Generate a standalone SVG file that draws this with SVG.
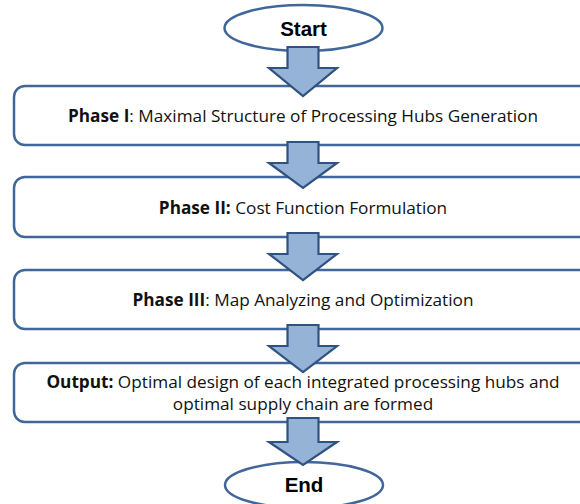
<svg xmlns="http://www.w3.org/2000/svg" width="580" height="504" viewBox="0 0 580 504">
  <defs>
    <style>
      .terminal { fill: #ffffff; stroke: #41679a; stroke-width: 2.5; }
      .box { fill: #ffffff; stroke: #41679a; stroke-width: 2.5; }
      .flow { fill: #95b3d7; stroke: #2f5280; stroke-width: 2.2; stroke-linejoin: miter; }
      .term-label { font-family: "Liberation Sans", Arial, sans-serif; font-weight: bold; font-size: 20.5px; fill: #000; text-anchor: middle; }
      .label { font-family: "Open Sans", "Noto Sans", sans-serif; font-size: 17.2px; fill: #111; text-anchor: middle; }
      .label .key { font-weight: bold; }
    </style>
  </defs>

  <rect width="580" height="504" fill="#ffffff"/>

  <g id="start">
    <ellipse class="terminal" cx="303.5" cy="28" rx="79" ry="23"/>
    <text class="term-label" x="303.5" y="36">Start</text>
  </g>

  <g id="phase1">
    <rect class="box" x="14" y="86" width="600" height="59" rx="11" ry="11"/>
    <text class="label" x="303" y="122"><tspan class="key">Phase I</tspan>: Maximal Structure of Processing Hubs Generation</text>
  </g>

  <g id="phase2">
    <rect class="box" x="14" y="177" width="600" height="60" rx="11" ry="11"/>
    <text class="label" x="303" y="214"><tspan class="key">Phase II:</tspan> Cost Function Formulation</text>
  </g>

  <g id="phase3">
    <rect class="box" x="14" y="270" width="600" height="59" rx="11" ry="11"/>
    <text class="label" x="303" y="306"><tspan class="key">Phase III</tspan>: Map Analyzing and Optimization</text>
  </g>

  <g id="output">
    <rect class="box" x="14" y="363" width="600" height="59" rx="11" ry="11"/>
    <text class="label" x="303" y="388"><tspan class="key">Output:</tspan> Optimal design of each integrated processing hubs and</text>
    <text class="label" x="303" y="410">optimal supply chain are formed</text>
  </g>

  <g id="end">
    <ellipse class="terminal" cx="304" cy="485" rx="79" ry="23"/>
    <text class="term-label" x="304" y="492">End</text>
  </g>

  <!-- block arrows between stages -->
  <g id="connectors">
    <path class="flow" d="M287.5,47 H318.5 V68 H337 L303,96 L269,68 H287.5 Z"/>
    <path class="flow" d="M287.5,142 H318.5 V163 H337 L303,188 L269,163 H287.5 Z"/>
    <path class="flow" d="M287.5,233 H318.5 V254 H337 L303,280 L269,254 H287.5 Z"/>
    <path class="flow" d="M287.5,325 H318.5 V346 H337 L303,372 L269,346 H287.5 Z"/>
    <path class="flow" d="M287.5,418 H318.5 V442 H337 L303,465 L269,442 H287.5 Z"/>
  </g>
</svg>
